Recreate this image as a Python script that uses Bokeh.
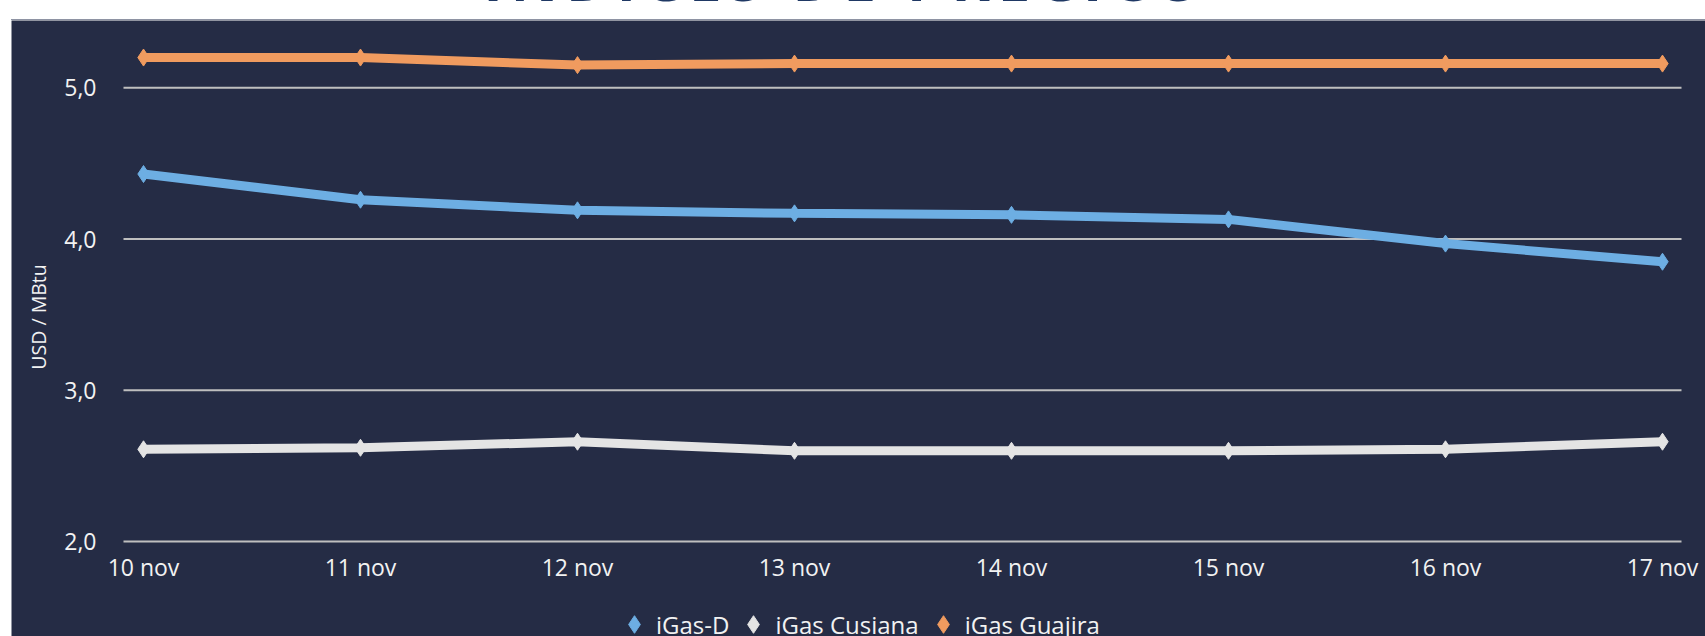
import math
from bokeh.plotting import figure
from bokeh.models import Range1d, FixedTicker, Legend, LegendItem, Div, Label
from bokeh.layouts import column
from bokeh.embed import file_html
from bokeh.resources import INLINE

# ---- data ----
dates = ["10 nov", "11 nov", "12 nov", "13 nov", "14 nov", "15 nov", "16 nov", "17 nov"]
igas_d = [4.43, 4.26, 4.19, 4.17, 4.16, 4.13, 3.97, 3.85]
igas_cusiana = [2.61, 2.62, 2.66, 2.60, 2.60, 2.60, 2.61, 2.66]
igas_guajira = [5.20, 5.20, 5.15, 5.16, 5.16, 5.16, 5.16, 5.16]
series_names = ["iGas-D", "iGas Cusiana", "iGas Guajira"]
y_ticks = [2.0, 3.0, 4.0, 5.0]
y_tick_labels = ["2,0", "3,0", "4,0", "5,0"]
y_axis_title = "USD / MBtu"
chart_title = "ÍNDICES DE PRECIOS"

# ---- styles / layout ----
BG = "#252C45"
GRID = "#BFBFBF"
TXT = "#F2F2F2"
COLORS = ["#6DAEE3", "#E4E4E4", "#F09B5F"]
FONT = "Open Sans"

W = 1705
H = 616
# plot-area extent (category units), and full panel extent
X_LO, X_HI = -0.0922, 7.0876
XR = (-0.6083, 7.1982)
YR = (1.3723, 5.445)

x = list(range(len(dates)))

p = figure(width=W, height=H, output_backend="svg", toolbar_location=None,
           x_range=Range1d(*XR), y_range=Range1d(*YR),
           background_fill_color=BG, border_fill_color="white",
           outline_line_color=None,
           min_border_left=11, min_border_right=0, min_border_top=0,
           min_border_bottom=0)

# grid lines limited to the plot area
p.xgrid.visible = False
p.ygrid.visible = False
p.segment(x0=X_LO, x1=X_HI, y0=y_ticks, y1=y_ticks, line_color=GRID, line_width=2)

# x axis (inside the panel, at the lowest grid line)
xa = p.xaxis[0]
xa.fixed_location = y_ticks[0]
xa.ticker = FixedTicker(ticks=x)
xa.major_label_overrides = {i: d for i, d in zip(x, dates)}
xa.axis_line_color = None
xa.major_tick_line_color = None
xa.minor_tick_line_color = None
xa.major_label_text_color = TXT
xa.major_label_text_font = FONT
xa.major_label_text_font_size = "23px"
xa.major_label_standoff = 3

# y axis (inside the panel, at the left edge of the plot area)
ya = p.yaxis[0]
ya.fixed_location = X_LO
ya.ticker = FixedTicker(ticks=y_ticks)
ya.major_label_overrides = {t: l for t, l in zip(y_ticks, y_tick_labels)}
ya.axis_line_color = None
ya.major_tick_line_color = None
ya.minor_tick_line_color = None
ya.major_label_text_color = TXT
ya.major_label_text_font = FONT
ya.major_label_text_font_size = "23px"
ya.major_label_standoff = 21

ytitle = Label(x=-0.484, y=3.485, text=y_axis_title, angle=math.pi / 2,
               text_align="center", text_baseline="middle",
               text_color=TXT, text_font=FONT, text_font_size="19.5px")
p.add_layout(ytitle)

# series
series = [igas_d, igas_cusiana, igas_guajira]
items = []
for name, vals, col in zip(series_names, series, COLORS):
    p.line(x, vals, line_color=col, line_width=9)
    r = p.scatter(x, vals, marker="diamond", size=17, fill_color=col, line_color=col)
    items.append(LegendItem(label=name, renderers=[r]))

legend = Legend(items=items, orientation="horizontal", location=(601, -10),
                glyph_width=44, glyph_height=44, label_standoff=0, spacing=2,
                padding=0, margin=0, border_line_color=None,
                background_fill_alpha=0,
                label_text_color=TXT, label_text_font=FONT,
                label_text_font_size="24px")
p.add_layout(legend, "center")

title_div = Div(
    text=('<div style="position:relative;width:%dpx;height:20px;overflow:hidden;">'
          '<div style="position:absolute;left:0;top:-50px;width:1688px;text-align:center;'
          'font-family:\'Open Sans\';font-weight:bold;font-size:58px;line-height:58px;'
          'letter-spacing:8px;color:#1F3864;white-space:nowrap;">%s</div>'
          '<div style="position:absolute;left:11px;top:19px;width:1694px;height:1px;'
          'background:#8E93A3;"></div>'
          '</div>') % (W, chart_title),
    width=W, height=20, margin=0)

layout = column(title_div, p, spacing=0)

open("out.html", "w").write(file_html(layout, INLINE))
